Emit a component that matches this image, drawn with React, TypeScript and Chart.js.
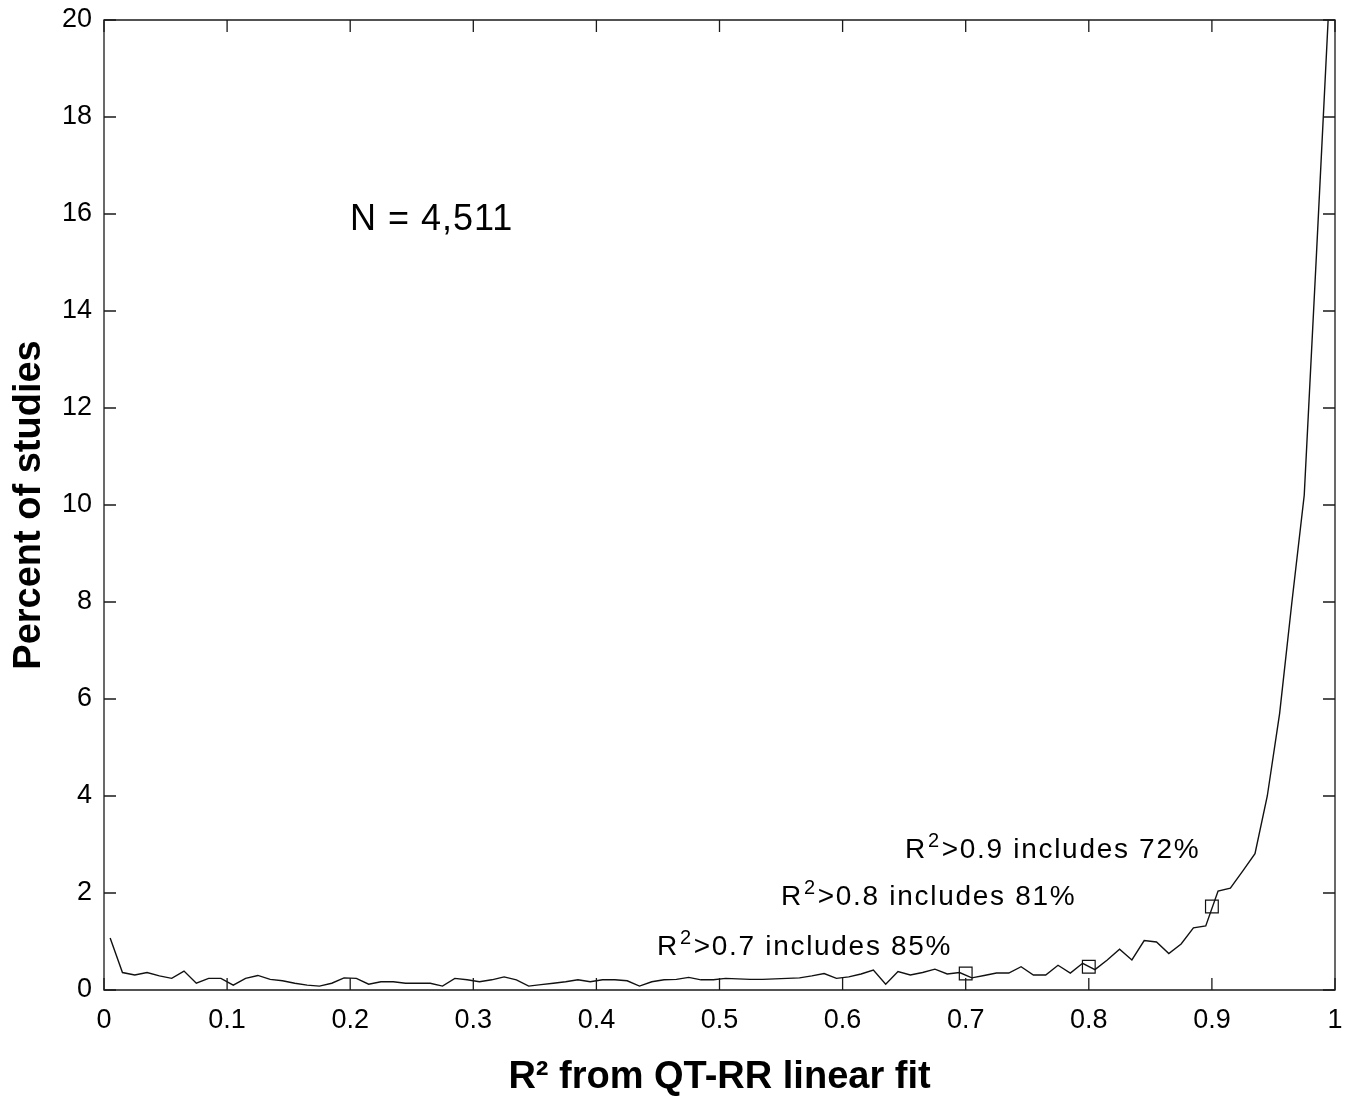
import { useEffect, useRef } from "react";
import { Chart, registerables } from "chart.js";

Chart.register(...registerables);

// Bin centers of R² (x) and percent of studies in each bin (y)
const binCenters = [
  0.005, 0.015, 0.025, 0.035, 0.045, 0.055, 0.065, 0.075, 0.085, 0.095,
  0.105, 0.115, 0.125, 0.135, 0.145, 0.155, 0.165, 0.175, 0.185, 0.195,
  0.205, 0.215, 0.225, 0.235, 0.245, 0.255, 0.265, 0.275, 0.285, 0.295,
  0.305, 0.315, 0.325, 0.335, 0.345, 0.355, 0.365, 0.375, 0.385, 0.395,
  0.405, 0.415, 0.425, 0.435, 0.445, 0.455, 0.465, 0.475, 0.485, 0.495,
  0.505, 0.515, 0.525, 0.535, 0.545, 0.555, 0.565, 0.575, 0.585, 0.595,
  0.605, 0.615, 0.625, 0.635, 0.645, 0.655, 0.665, 0.675, 0.685, 0.695,
  0.705, 0.715, 0.725, 0.735, 0.745, 0.755, 0.765, 0.775, 0.785, 0.795,
  0.805, 0.815, 0.825, 0.835, 0.845, 0.855, 0.865, 0.875, 0.885, 0.895,
  0.905, 0.915, 0.925, 0.935, 0.945, 0.955, 0.965, 0.975, 0.985, 0.995,
];

const percentOfStudies = [
  1.07, 0.36, 0.31, 0.36, 0.29, 0.24, 0.39, 0.14, 0.24, 0.24,
  0.10, 0.24, 0.30, 0.22, 0.19, 0.14, 0.10, 0.08, 0.14, 0.25,
  0.24, 0.12, 0.17, 0.17, 0.14, 0.14, 0.14, 0.08, 0.24, 0.21,
  0.17, 0.21, 0.27, 0.21, 0.08, 0.11, 0.14, 0.17, 0.21, 0.17,
  0.21, 0.21, 0.19, 0.08, 0.17, 0.21, 0.22, 0.26, 0.21, 0.21,
  0.24, 0.23, 0.22, 0.22, 0.23, 0.24, 0.25, 0.29, 0.34, 0.24,
  0.27, 0.33, 0.41, 0.12, 0.38, 0.31, 0.36, 0.43, 0.33, 0.36,
  0.25, 0.30, 0.35, 0.35, 0.48, 0.31, 0.31, 0.51, 0.35, 0.55,
  0.42, 0.62, 0.84, 0.62, 1.02, 0.99, 0.75, 0.95, 1.28, 1.32,
  2.04, 2.10, 2.45, 2.81, 4.0, 5.7, 8.0, 10.2, 15.2, 20.3,
];

// Threshold markers (squares)
const markerR2 = [0.7, 0.8, 0.9];
const markerPercent = [0.34, 0.48, 1.72];

// Threshold annotation texts
const thresholdBase = ["R", "R", "R"];
const thresholdSup = ["2", "2", "2"];
const thresholdRest = [">0.7 includes 85%", ">0.8 includes 81%", ">0.9 includes 72%"];
const sampleSizeText = "N = 4,511";

// Tick values and labels
const xTickValues = [0, 0.1, 0.2, 0.3, 0.4, 0.5, 0.6, 0.7, 0.8, 0.9, 1];
const xTickLabels = ["0", "0.1", "0.2", "0.3", "0.4", "0.5", "0.6", "0.7", "0.8", "0.9", "1"];
const yTickValues = [0, 2, 4, 6, 8, 10, 12, 14, 16, 18, 20];
const yTickLabels = ["0", "2", "4", "6", "8", "10", "12", "14", "16", "18", "20"];

const FONT = "'Liberation Sans', Arial, Helvetica, sans-serif";

const framePlugin = {
  id: "matlabFrame",
  afterDatasetsDraw(chart: any) {
    const { ctx, chartArea, scales } = chart;
    const { left, right, top, bottom } = chartArea;
    const tick = 12;
    ctx.save();
    ctx.strokeStyle = "#1a1a1a";
    ctx.lineWidth = 1.3;
    ctx.beginPath();
    ctx.rect(left, top, right - left, bottom - top);
    ctx.stroke();
    ctx.beginPath();
    xTickValues.forEach((v) => {
      const px = scales.x.getPixelForValue(v);
      ctx.moveTo(px, bottom);
      ctx.lineTo(px, bottom - tick);
      ctx.moveTo(px, top);
      ctx.lineTo(px, top + tick);
    });
    yTickValues.forEach((v) => {
      const py = scales.y.getPixelForValue(v);
      ctx.moveTo(left, py);
      ctx.lineTo(left + tick, py);
      ctx.moveTo(right, py);
      ctx.lineTo(right - tick, py);
    });
    ctx.stroke();
    ctx.restore();
  },
};

const annotationPlugin = {
  id: "textAnnotations",
  afterDatasetsDraw(chart: any) {
    const { ctx, scales } = chart;
    const xs = scales.x;
    const ys = scales.y;
    ctx.save();
    ctx.fillStyle = "#000";
    ctx.textAlign = "left";
    ctx.textBaseline = "alphabetic";

    // N = 4,511
    ctx.font = `36px ${FONT}`;
    (ctx as any).letterSpacing = "1px";
    ctx.fillText(sampleSizeText, xs.getPixelForValue(0.1998), ys.getPixelForValue(15.67));

    // Threshold texts, anchored in data coordinates
    const anchorsX = [0.4492, 0.55, 0.6507];
    const anchorsY = [0.72, 1.75, 2.72];
    for (let i = 0; i < thresholdRest.length; i++) {
      const x0 = xs.getPixelForValue(anchorsX[i]);
      const y0 = ys.getPixelForValue(anchorsY[i]);
      (ctx as any).letterSpacing = "1.7px";
      ctx.font = `28px ${FONT}`;
      ctx.fillText(thresholdBase[i], x0, y0);
      let w = ctx.measureText(thresholdBase[i]).width + 1;
      ctx.font = `20px ${FONT}`;
      ctx.fillText(thresholdSup[i], x0 + w, y0 - 11);
      w += ctx.measureText(thresholdSup[i]).width + 1;
      ctx.font = `28px ${FONT}`;
      ctx.fillText(thresholdRest[i], x0 + w, y0);
    }
    (ctx as any).letterSpacing = "0px";
    ctx.restore();
  },
};

export default function App() {
  const canvasRef = useRef<HTMLCanvasElement | null>(null);

  useEffect(() => {
    const canvas = canvasRef.current;
    if (!canvas) return;
    Chart.defaults.font.family = FONT;
    Chart.defaults.color = "#000";

    const chart = new Chart(canvas, {
      type: "line",
      data: {
        datasets: [
          {
            type: "line",
            label: "Percent of studies",
            data: binCenters.map((x, i) => ({ x, y: percentOfStudies[i] })),
            borderColor: "#111",
            borderWidth: 1.4,
            pointRadius: 0,
            tension: 0,
            fill: false,
          },
          {
            type: "scatter",
            label: "R² thresholds",
            data: markerR2.map((x, i) => ({ x, y: markerPercent[i] })),
            pointStyle: "rect",
            pointRadius: 9,
            pointHoverRadius: 9,
            borderColor: "#111",
            borderWidth: 1.2,
            backgroundColor: "rgba(0,0,0,0)",
            showLine: false,
          } as any,
        ],
      },
      options: {
        animation: false,
        responsive: false,
        layout: { padding: { left: 0, right: 21, top: 20, bottom: 0 } },
        plugins: {
          legend: { display: false },
          tooltip: { enabled: false },
        },
        scales: {
          x: {
            type: "linear",
            min: 0,
            max: 1,
            afterFit(scale: any) {
              scale.height = 110;
              scale.paddingLeft = 0;
              scale.paddingRight = 0;
            },
            afterBuildTicks(scale: any) {
              scale.ticks = xTickValues.map((v) => ({ value: v }));
            },
            ticks: {
              autoSkip: false,
              maxRotation: 0,
              minRotation: 0,
              padding: 14,
              color: "#000",
              font: { size: 27, family: FONT },
              callback: (_v: any, i: number) => xTickLabels[i],
            },
            grid: { display: false, drawTicks: false },
            border: { display: false },
            title: {
              display: true,
              text: "R² from QT-RR linear fit",
              color: "#000",
              font: { size: 38, weight: "bold", family: FONT },
              padding: { top: 0, bottom: 0 },
            },
          },
          y: {
            type: "linear",
            min: 0,
            max: 20,
            afterFit(scale: any) {
              scale.width = 104;
              scale.paddingTop = 0;
              scale.paddingBottom = 0;
            },
            afterBuildTicks(scale: any) {
              scale.ticks = yTickValues.map((v) => ({ value: v }));
            },
            ticks: {
              autoSkip: false,
              padding: 12,
              color: "#000",
              font: { size: 27, family: FONT },
              callback: (_v: any, i: number) => yTickLabels[i],
            },
            grid: { display: false, drawTicks: false },
            border: { display: false },
            title: {
              display: true,
              text: "Percent of studies",
              color: "#000",
              font: { size: 38, weight: "bold", family: FONT },
              padding: { top: 7, bottom: 0 },
            },
          },
        },
      } as any,
      plugins: [framePlugin, annotationPlugin],
    });

    return () => chart.destroy();
  }, []);

  return (
    <div style={{ position: "absolute", left: 0, top: 0, width: 1356, height: 1100, background: "#fff" }}>
      <canvas ref={canvasRef} width={1356} height={1100} style={{ display: "block" }} />
    </div>
  );
}
